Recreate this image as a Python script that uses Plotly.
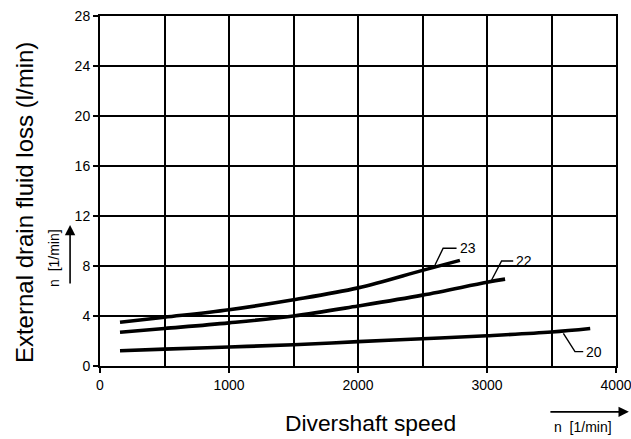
import plotly.graph_objects as go

# Data
speed_23 = [155, 500, 1000, 1500, 2000, 2500, 2790]
loss_23 = [3.5, 3.9, 4.5, 5.3, 6.25, 7.65, 8.45]

speed_22 = [155, 500, 1000, 1500, 2000, 2500, 3000, 3140]
loss_22 = [2.7, 3.0, 3.45, 4.0, 4.8, 5.67, 6.7, 6.95]

speed_20 = [155, 500, 1000, 1500, 2000, 2500, 3000, 3500, 3800]
loss_20 = [1.22, 1.35, 1.52, 1.7, 1.95, 2.18, 2.42, 2.72, 3.0]

curve_labels = ["23", "22", "20"]
# leader line: point on curve, elbow, end of horizontal
leader_x = [[2597, 2660, 2764], [3036, 3113, 3203], [3592, 3682, 3746]]
leader_y = [[8.08, 9.42, 9.42], [6.88, 8.4, 8.4], [2.61, 1.15, 1.15]]

x_ticks = [0, 1000, 2000, 3000, 4000]
y_ticks = [0, 4, 8, 12, 16, 20, 24, 28]

fig = go.Figure()
for xs, ys in [(speed_23, loss_23), (speed_22, loss_22), (speed_20, loss_20)]:
    fig.add_trace(go.Scatter(x=xs, y=ys, mode="lines",
                             line=dict(color="black", width=3.6, shape="spline"),
                             showlegend=False, hoverinfo="skip"))

for lbl, lx, ly in zip(curve_labels, leader_x, leader_y):
    fig.add_trace(go.Scatter(x=lx, y=ly, mode="lines",
                             line=dict(color="black", width=1.4),
                             showlegend=False, hoverinfo="skip"))
    fig.add_annotation(x=lx[-1], y=ly[-1], text=lbl, showarrow=False,
                       xanchor="left", yanchor="middle", xshift=1,
                       font=dict(size=14, color="black"))

axis_common = dict(showline=True, linecolor="black", linewidth=2, mirror=True,
                   showgrid=True, gridcolor="black", gridwidth=1.8,
                   ticks="outside", ticklen=5, tickwidth=1.6, tickcolor="black",
                   zeroline=False, tickfont=dict(size=14, color="black"),
                   ticklabeloverflow="allow", automargin=False)

fig.update_xaxes(range=[0, 4000], tickvals=x_ticks,
                 minor=dict(dtick=500, showgrid=True, gridcolor="black",
                            gridwidth=1.8, ticks=""),
                 **axis_common)
fig.update_yaxes(range=[0, 28], tickvals=y_ticks, **axis_common)

# Axis titles
fig.add_annotation(xref="paper", yref="paper", x=-0.145, y=0.466,
                   xanchor="center", yanchor="middle",
                   text="External drain fluid loss (l/min)", showarrow=False,
                   textangle=-90, font=dict(size=24, color="black"))
fig.add_annotation(xref="paper", yref="paper", x=0.525, y=-0.163,
                   xanchor="center", yanchor="middle",
                   text="Divershaft speed", showarrow=False,
                   font=dict(size=22.8, color="black"))

# small unit annotations with arrows
fig.add_annotation(xref="paper", yref="paper", x=-0.089, y=0.309,
                   xanchor="center", yanchor="middle",
                   text="n  [1/min]", showarrow=False, textangle=-90,
                   font=dict(size=14, color="black"))
fig.add_annotation(xref="paper", yref="paper", x=-0.058, y=0.403,
                   ax=0, ay=60, axref="pixel", ayref="pixel",
                   text="", showarrow=True, arrowhead=2, arrowsize=1.3,
                   arrowwidth=1.6, arrowcolor="black")
fig.add_annotation(xref="paper", yref="paper", x=1.025, y=-0.131,
                   ax=-80, ay=0, axref="pixel", ayref="pixel",
                   text="", showarrow=True, arrowhead=2, arrowsize=1.3,
                   arrowwidth=1.6, arrowcolor="black")
fig.add_annotation(xref="paper", yref="paper", x=0.936, y=-0.174,
                   xanchor="center", yanchor="middle",
                   text="n  [1/min]", showarrow=False,
                   font=dict(size=14, color="black"))

fig.update_layout(width=631, height=439,
                  margin=dict(l=100, r=15, t=16, b=73, autoexpand=False),
                  paper_bgcolor="white", plot_bgcolor="white",
                  font=dict(family="Liberation Sans, Arial, sans-serif", color="black"))

fig.write_html("out.html", config={"displayModeBar": False},
               post_script="document.body.style.margin='0';document.body.style.overflow='hidden';")
